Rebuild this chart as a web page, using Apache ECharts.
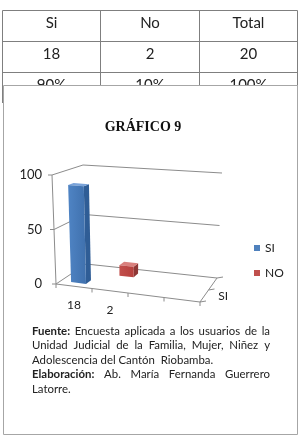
<!DOCTYPE html>
<html>
<head>
<meta charset="utf-8">
<script src="https://cdn.jsdelivr.net/npm/echarts@6/dist/echarts.min.js"></script>
<style>
html, body { margin: 0; padding: 0; background: #fff; }
#chart { width: 300px; height: 437px; }
</style>
</head>
<body>
<div id="chart"></div>
<script>
// tabla superior
const tableHeader = ['Si', 'No', 'Total'];
const tableCounts = ['18', '2', '20'];
const tablePercents = ['90%', '10%', '100%'];

// gráfico 9
const categories = ['18', '2', '', ''];
const depthLabels = ['SI', 'NO'];
const siValues = [90, null, null, null];
const noValues = [null, 10, null, null];
const yMin = 0, yMax = 100, yStep = 50;

// nota al pie
const footerLines = [
    { words: [['Fuente:', true], 'Encuesta', 'aplicada', 'a', 'los', 'usuarios', 'de', 'la'], justify: true },
    { words: ['Unidad', 'Judicial', 'de', 'la', 'Familia,', 'Mujer,', 'Niñez', 'y'], justify: true },
    { words: ['Adolescencia del Cantón  Riobamba.'], justify: false },
    { words: [['Elaboración:', true], 'Ab.', 'María', 'Fernanda', 'Guerrero'], justify: true },
    { words: ['Latorre.'], justify: false }
];

const FONT = 'Lato';
const TXT = '#222';
const LINE = '#8c8c8c';

// proyeccion pseudo 3D (u: categorias, t: valor, w: profundidad)
function makeProj(cs) {
    const x0 = cs.x, x1 = cs.x + cs.width, yb = cs.y + cs.height, yt = cs.y;
    const C = {
        '000': [x0, yb], '100': [x1, yb + 18], '001': [x0 + 30, yb - 20], '101': [x1 + 17, yb - 6],
        '010': [x0 - 4, yt], '110': [x1 + 4, yt + 12], '011': [x0 + 27, yt - 10], '111': [x1 + 22, yt - 2]
    };
    return function (u, t, w) {
        let x = 0, y = 0;
        for (const a of [0, 1]) for (const b of [0, 1]) for (const c of [0, 1]) {
            const k = (a ? u : 1 - u) * (b ? t : 1 - t) * (c ? w : 1 - w);
            const p = C['' + a + b + c];
            x += k * p[0]; y += k * p[1];
        }
        return [x, y];
    };
}

function line(p, q) {
    return { type: 'line', shape: { x1: p[0], y1: p[1], x2: q[0], y2: q[1] }, style: { stroke: LINE, lineWidth: 1 } };
}

function frameItem(params, api) {
    const cs = params.coordSys;
    const P = makeProj(cs);
    const kids = [];
    // paredes y lineas de division
    for (let v = yMin; v <= yMax; v += yStep) {
        const t = (cs.y + cs.height - api.coord([0, v])[1]) / cs.height;
        kids.push(line(P(0, t, 0), P(0, t, 1)));
        kids.push(line(P(0, t, 1), P(1, t, 1)));
        const a = P(0, t, 0);
        kids.push(line(a, [a[0] - 4, a[1]]));
    }
    kids.push(line(P(0, 0, 0), P(0, 1, 0)));
    // piso
    kids.push(line(P(0, 0, 0), P(1, 0, 0)));
    kids.push(line(P(1, 0, 0), P(1, 0, 1)));
    const n = categories.length;
    for (let i = 0; i <= n; i++) {
        const a = P(i / n, 0, 0);
        kids.push(line(a, [a[0], a[1] + 4]));
    }
    for (let j = 0; j <= depthLabels.length; j++) {
        const a = P(1, 0, j / depthLabels.length);
        kids.push(line(a, [a[0] + 6, a[1] - 1]));
    }
    categories.forEach(function (c, i) {
        const a = P((i + 0.5) / n, 0, 0);
        kids.push({ type: 'text', x: a[0], y: a[1] + 19,
            style: { text: c, fill: TXT, font: '12px ' + FONT, align: 'center', verticalAlign: 'middle' } });
    });
    depthLabels.forEach(function (d, j) {
        if (j % 2) return; // Excel salta la segunda etiqueta
        const a = P(1, 0, (j + 0.5) / depthLabels.length);
        kids.push({ type: 'text', x: a[0] + 14, y: a[1],
            style: { text: d, fill: TXT, font: '12px ' + FONT, align: 'left', verticalAlign: 'middle' } });
    });
    return { type: 'group', children: kids };
}

function barItem(depthIdx, col) {
    return function (params, api) {
        const cs = params.coordSys;
        const P = makeProj(cs);
        const base = api.coord([api.value(0), yMin]);
        const top = api.coord([api.value(0), api.value(1)]);
        const slot = api.size([1, 0])[0] / cs.width;
        const uc = (base[0] - cs.x) / cs.width;
        const t1 = (cs.y + cs.height - top[1]) / cs.height;
        const hw = slot * 0.21, hd = 0.09;
        const wc = (depthIdx + 0.5) / depthLabels.length;
        const u0 = uc - hw, u1 = uc + hw, w0 = wc - hd, w1 = wc + hd;
        return { type: 'group', children: [
            { type: 'polygon', shape: { points: [P(u1, 0, w0), P(u1, 0, w1), P(u1, t1, w1), P(u1, t1, w0)] }, style: { fill: col[1] } },
            { type: 'polygon', shape: { points: [P(u0, t1, w0), P(u1, t1, w0), P(u1, t1, w1), P(u0, t1, w1)] }, style: { fill: col[2] } },
            { type: 'polygon', shape: { points: [P(u0, 0, w0), P(u1, 0, w0), P(u1, t1, w0), P(u0, t1, w0)] },
              style: { fill: { type: 'linear', x: 0, y: 0, x2: 1, y2: 0, colorStops: [{ offset: 0, color: col[0] }, { offset: 1, color: col[3] }] } } }
        ] };
    };
}

function toData(arr) {
    return arr.map(function (v, i) { return v == null ? null : [i, v]; }).filter(function (d) { return d; });
}

// tabla + recuadro + titulo + fuente
const graphics = [];
const colX = [2.5, 100.5, 199.5, 297.5];
const rowY = [10.5, 41.5, 72.5];
colX.forEach(function (x) {
    graphics.push({ type: 'line', z: 0, shape: { x1: x, y1: 10.5, x2: x, y2: 103 }, style: { stroke: '#7f7f7f', lineWidth: 1 } });
});
rowY.forEach(function (y) {
    graphics.push({ type: 'line', z: 0, shape: { x1: 2.5, y1: y, x2: 297.5, y2: y }, style: { stroke: '#7f7f7f', lineWidth: 1 } });
});
[tableHeader, tableCounts, tablePercents].forEach(function (row, r) {
    row.forEach(function (s, c) {
        graphics.push({ type: 'text', z: 0, x: (colX[c] + colX[c + 1]) / 2, y: 23 + r * 31,
            style: { text: s, fill: TXT, font: '15px ' + FONT, align: 'center', verticalAlign: 'middle' } });
    });
});
graphics.push({ type: 'rect', z: 1, shape: { x: 3.5, y: 85.5, width: 294, height: 349 },
    style: { fill: '#fff', stroke: '#a6a6a6', lineWidth: 1 } });
graphics.push({ type: 'text', z: 3, x: 143, y: 127,
    style: { text: 'GRÁFICO 9', fill: '#111', font: 'bold 14px "Liberation Serif"', align: 'center', verticalAlign: 'middle' } });

const ctx = document.createElement('canvas').getContext('2d');
const fLeft = 32, fRight = 270, fTop = 331, fStep = 14.5, fSize = '11.4px ';
footerLines.forEach(function (ln, i) {
    const y = fTop + i * fStep;
    const words = ln.words.map(function (w) { return Array.isArray(w) ? { t: w[0], b: w[1] } : { t: w, b: false }; });
    const widths = words.map(function (w) {
        ctx.font = (w.b ? 'bold ' : '') + fSize + FONT;
        return ctx.measureText(w.t).width;
    });
    const total = widths.reduce(function (a, b) { return a + b; }, 0);
    const gap = ln.justify && words.length > 1 ? (fRight - fLeft - total) / (words.length - 1) : 4;
    let x = fLeft;
    words.forEach(function (w, k) {
        graphics.push({ type: 'text', z: 3, x: x, y: y,
            style: { text: w.t, fill: TXT, font: (w.b ? 'bold ' : '') + fSize + FONT, align: 'left', verticalAlign: 'middle' } });
        x += widths[k] + gap;
    });
});

const chart = echarts.init(document.getElementById('chart'));
chart.setOption({
    animation: false,
    backgroundColor: '#fff',
    graphic: graphics,
    legend: {
        data: ['SI', 'NO'],
        orient: 'vertical',
        left: 254, top: 242,
        padding: 0,
        icon: 'rect',
        itemWidth: 6, itemHeight: 6, itemGap: 13,
        textStyle: { fontFamily: FONT, fontSize: 12, color: TXT }
    },
    grid: { left: 56, top: 175, width: 144, height: 109 },
    xAxis: { type: 'category', data: categories, show: false },
    yAxis: {
        type: 'value', min: yMin, max: yMax, interval: yStep, z: 5,
        axisLine: { show: false }, axisTick: { show: false }, splitLine: { show: false },
        axisLabel: { margin: 14, fontFamily: FONT, fontSize: 13, color: TXT }
    },
    series: [
        { type: 'custom', name: 'frame', z: 2, silent: true, renderItem: frameItem, data: [[0, 0]] },
        { type: 'custom', name: 'NO', z: 3, itemStyle: { color: '#c0504d' },
          renderItem: barItem(1, ['#c24f4c', '#8e3836', '#d9807d', '#b6403d']), data: toData(noValues) },
        { type: 'custom', name: 'SI', z: 4, itemStyle: { color: '#4f81bd' },
          renderItem: barItem(0, ['#4f84c4', '#2f5d96', '#7aa3d9', '#3f70ad']), data: toData(siValues) }
    ]
});
</script>
</body>
</html>
